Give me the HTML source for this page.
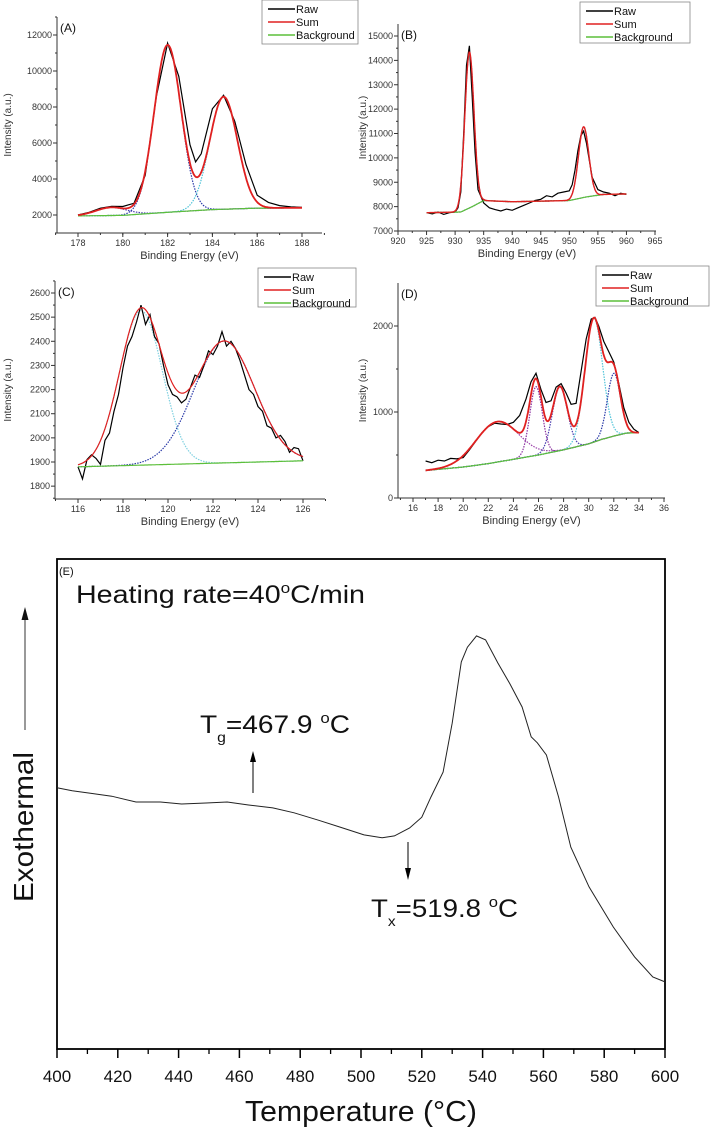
<!DOCTYPE html>
<html><head><meta charset="utf-8"><style>
html,body{margin:0;padding:0;background:#fff;}
svg{display:block;font-family:"Liberation Sans",Arial,sans-serif;}
</style></head><body>
<svg id="fig" width="712" height="1133" viewBox="0 0 712 1133" xmlns="http://www.w3.org/2000/svg"></svg>
<script>
// ---------- Panel A data ----------
const aRawX=[178,178.5,179,179.5,180,180.5,181,181.5,182,182.5,183,183.25,183.5,184,184.5,185,185.5,186,186.5,187,187.5,188];
const aRawY=[2000,2150,2380,2480,2470,2650,4200,8600,11550,9700,5900,4950,5400,7900,8650,7200,4800,3100,2700,2520,2450,2420];
const aBg=[[178,1950],[180,1980],[182,2150],[184,2300],[186,2380],[188,2400]];
const aPkC=[179.5,182,184.5];const aPkH=[450,9300,6250];const aPkS=[0.7,0.6,0.62];
// ---------- Panel B data ----------
const bRawX=[925,926,927,928,929,930,930.5,931,931.5,932,932.5,933,933.5,934,935,936,937,938,939,940,941,942,943,944,945,946,947,948,949,950,950.5,951,951.5,952,952.5,953,953.5,954,955,956,957,958,959,960];
const bRawY=[7750,7700,7780,7680,7750,7780,7950,8600,11000,13800,14600,12500,10200,8700,8150,7950,7880,7820,7900,7850,7950,8050,8150,8250,8300,8450,8400,8550,8600,8650,8900,9500,10300,10900,11100,10600,9900,9200,8700,8600,8550,8450,8550,8500];
const bBg=[[925,7750],[931,7780],[933,8000],[935,8250],[940,8200],[950,8250],[953,8400],[956,8500],[960,8520]];
const bPkC=[932.5,952.5];const bPkH=[6400,2900];const bPkS=[0.8,0.9];
// ---------- Panel C data ----------
const cRawX=[116,116.2,116.4,116.6,116.8,117,117.2,117.4,117.6,117.8,118,118.2,118.4,118.6,118.8,119,119.2,119.4,119.6,119.8,120,120.2,120.4,120.6,120.8,121,121.2,121.4,121.6,121.8,122,122.2,122.4,122.6,122.8,123,123.2,123.4,123.6,123.8,124,124.2,124.4,124.6,124.8,125,125.2,125.4,125.6,125.8,126];
const cRawY=[1880,1830,1910,1930,1915,1890,1990,2020,2110,2180,2290,2380,2420,2480,2550,2470,2510,2420,2390,2300,2220,2180,2170,2145,2160,2210,2260,2250,2300,2360,2345,2380,2440,2380,2400,2370,2320,2260,2200,2180,2130,2110,2050,2040,2000,2010,1985,1940,1960,1955,1905];
const cBg=[[116,1880],[126,1905]];
const cPkC=[118.8,122.5];const cPkH=[640,505];const cPkS=[0.95,1.35];
// ---------- Panel D data ----------
const dRawX=[17,17.5,18,18.5,19,19.5,20,20.5,21,21.5,22,22.5,23,23.5,24,24.5,25,25.4,25.8,26.2,26.6,27,27.4,27.8,28.2,28.6,29,29.4,29.8,30.2,30.5,30.8,31.2,31.6,32,32.4,32.8,33.2,33.6,34];
const dRawY=[430,410,440,430,460,455,470,560,660,760,830,870,860,855,880,960,1150,1350,1450,1260,1110,1130,1290,1330,1220,1090,1100,1480,1850,2080,2100,2000,1820,1700,1580,1330,1050,880,800,760];
const dBg=[[17,320],[20,360],[22,400],[24,450],[26,500],[28,560],[30,630],[31,680],[32,720],[33,755],[34,760]];
const dPkC=[22.7,25.8,27.7,30.4,32.0];const dPkH=[470,800,740,1440,730];const dPkS=[1.7,0.5,0.6,0.7,0.52];
const dPkCol=["#9a3fa8","#8a2fa0","#4a3db0","#4fc3d8","#2a3aa8"];
// ---------- Panel E (DSC) data ----------
const eT=[400,405,411,418,426,434,441,449,456,463,471,478,486,493,501,507,511,516,520,523,527,530,533,535,538,541,545,549,553,556,558,561,565,569,575,583,590,596,600];
const eY=[53.3,52.7,52.2,51.6,50.4,50.4,50.0,50.2,50.4,49.8,49.2,48.2,46.7,45.3,43.7,43.1,43.5,45.1,47.3,51.4,56.5,66.5,79.0,82.0,84.3,83.5,78.8,74.5,69.8,63.7,62.5,60.0,51.4,41.2,33.1,24.9,18.8,14.7,13.7];
const eXTicks=[400,420,440,460,480,500,520,540,560,580,600];

const NS="http://www.w3.org/2000/svg";
const svg=document.getElementById('fig');
function mk(tag,attrs,parent){const e=document.createElementNS(NS,tag);for(const k in attrs)e.setAttribute(k,attrs[k]);(parent||svg).appendChild(e);return e;}
function txt(s,attrs,parent){const e=mk('text',attrs,parent);e.textContent=s;return e;}
function interp(pts,x){if(x<=pts[0][0])return pts[0][1];for(let i=1;i<pts.length;i++){if(x<=pts[i][0]){const t=(x-pts[i-1][0])/(pts[i][0]-pts[i-1][0]);return pts[i-1][1]+t*(pts[i][1]-pts[i-1][1]);}}return pts[pts.length-1][1];}
function gauss(x,c,h,s){return h*Math.exp(-(x-c)*(x-c)/(2*s*s));}

function panel(p){
  const g=mk('g',{});
  
  
  const X=v=>p.x0px+(v-p.x0)*(p.x1px-p.x0px)/(p.x1-p.x0);
  const Y=v=>p.y0px+(v-p.y0)*(p.y1px-p.y0px)/(p.y1-p.y0);
  const ax=mk('path',{d:`M${p.axL},${p.axT} V${p.axB} H${p.axR}`,stroke:'#333',fill:'none','stroke-width':1},g);
  
  
  p.xTicks.forEach(v=>{mk('line',{x1:X(v),x2:X(v),y1:p.axB,y2:p.axB+4,stroke:'#333'},g);
    const t=txt(String(v),{x:X(v),y:p.axB+13,'font-size':9,'text-anchor':'middle',fill:'#333'},g);
    });
  p.xMinor.forEach(v=>mk('line',{x1:X(v),x2:X(v),y1:p.axB,y2:p.axB+2,stroke:'#333'},g));
  p.yTicks.forEach(v=>{mk('line',{x1:p.axL-4,x2:p.axL,y1:Y(v),y2:Y(v),stroke:'#333'},g);
    const t=txt(String(v),{x:p.axL-5,y:Y(v)+3,'font-size':9,'text-anchor':'end',fill:'#333'},g);
    });
  p.yMinor.forEach(v=>mk('line',{x1:p.axL-2,x2:p.axL,y1:Y(v),y2:Y(v),stroke:'#333'},g));
  const xl=txt('Binding Energy (eV)',{x:(p.axL+p.axR)/2,y:p.axB+26,'font-size':11,'text-anchor':'middle',fill:'#333'},g);
  
  const yc=(p.axT+p.axB)/2;
  const yl=txt('Intensity (a.u.)',{x:p.yLabX,y:yc,'font-size':10,'text-anchor':'middle',fill:'#333',transform:`rotate(-90 ${p.yLabX} ${yc})`},g);
  
  const pl=txt(p.label,{x:p.axL+3,y:p.axT+15,'font-size':12,fill:'#111'},g);
  
  const xs=[];for(let v=p.xs0;v<=p.xs1+1e-9;v+=(p.xs1-p.xs0)/300)xs.push(v);
  const bg=v=>interp(p.bg,v);
  p.pkC.forEach((c,i)=>{const pts=xs.map(v=>X(v).toFixed(1)+','+Y(bg(v)+gauss(v,c,p.pkH[i],p.pkS[i])).toFixed(1)).join(' ');
    const e=mk('polyline',{points:pts,fill:'none',stroke:p.pkCol[i%p.pkCol.length],'stroke-width':1.2,'stroke-dasharray':'1.5,1.2'},g);
    });
  const raw=mk('polyline',{points:p.rawX.map((v,i)=>X(v).toFixed(1)+','+Y(p.rawY[i]).toFixed(1)).join(' '),fill:'none',stroke:'#000','stroke-width':1.2},g);
  
  const bgl=mk('polyline',{points:xs.map(v=>X(v).toFixed(1)+','+Y(bg(v)).toFixed(1)).join(' '),fill:'none',stroke:'#5cbf3a','stroke-width':1.2},g);
  
  const sum=mk('polyline',{points:xs.map(v=>{let s=bg(v);p.pkC.forEach((c,i)=>s+=gauss(v,c,p.pkH[i],p.pkS[i]));return X(v).toFixed(1)+','+Y(s).toFixed(1);}).join(' '),fill:'none',stroke:'#e02020','stroke-width':p.sumW||1.4},g);
  
  const L=p.leg;
  const lg=mk('g',{},g);
  
  mk('rect',{x:L.x,y:L.y,width:L.w,height:L.h,fill:'#fff',stroke:'#888','stroke-width':0.8},lg);
  [['Raw','#000'],['Sum','#e02020'],['Background','#5cbf3a']].forEach((r,i)=>{
    const yy=L.y+9+i*13;
    mk('line',{x1:L.x+6,x2:L.x+33,y1:yy,y2:yy,stroke:r[1],'stroke-width':1.5},lg);
    const t=txt(r[0],{x:L.x+34,y:yy+4,'font-size':11,fill:'#111'},lg);
    });
}
const range=(a,b,s)=>{const r=[];for(let v=a;v<=b+1e-9;v+=s)r.push(+v.toFixed(3));return r;};

panel({name:'panel-a',label:'(A)',x0:178,x1:188,x0px:78,x1px:302,y0:2000,y1:12000,y0px:215,y1px:35,
  axL:57,axR:322,axT:17,axB:233,yLabX:11,xTicks:range(178,188,2),xMinor:range(177,189,1),
  yTicks:range(2000,12000,2000),yMinor:range(1000,13000,1000),xs0:178,xs1:188,
  rawX:aRawX,rawY:aRawY,bg:aBg,pkC:aPkC,pkH:aPkH,pkS:aPkS,pkCol:['#4a3db0','#2a3aa8','#4fc3d8'],sumW:1.8,
  leg:{x:262,y:0,w:96,h:44}});
panel({name:'panel-b',label:'(B)',x0:920,x1:965,x0px:398,x1px:655,y0:7000,y1:15000,y0px:231,y1px:36,
  axL:398,axR:656,axT:24,axB:231,yLabX:366,xTicks:range(920,965,5),xMinor:range(922.5,962.5,5),
  yTicks:range(7000,15000,1000),yMinor:range(7500,15000,1000),xs0:925,xs1:960,
  rawX:bRawX,rawY:bRawY,bg:bBg,pkC:bPkC,pkH:bPkH,pkS:bPkS,pkCol:['#3050c0','#3050c0'],
  leg:{x:580,y:2,w:110,h:41}});
panel({name:'panel-c',label:'(C)',x0:116,x1:126,x0px:78,x1px:303,y0:1900,y1:2600,y0px:462,y1px:293,
  axL:55,axR:325,axT:281,axB:499,yLabX:11,xTicks:range(116,126,2),xMinor:range(115,127,1),
  yTicks:range(1800,2600,100),yMinor:range(1750,2650,100),xs0:116,xs1:126,
  rawX:cRawX,rawY:cRawY,bg:cBg,pkC:cPkC,pkH:cPkH,pkS:cPkS,pkCol:['#7fd0e0','#2a3aa8'],sumW:1.2,
  leg:{x:258,y:268,w:98,h:39}});
panel({name:'panel-d',label:'(D)',x0:16,x1:36,x0px:413,x1px:664,y0:0,y1:2000,y0px:498,y1px:326,
  axL:398,axR:665,axT:283,axB:498,yLabX:366,xTicks:range(16,36,2),xMinor:range(15,35,2),
  yTicks:[0,1000,2000],yMinor:[500,1500],xs0:17,xs1:34,
  rawX:dRawX,rawY:dRawY,bg:dBg,pkC:dPkC,pkH:dPkH,pkS:dPkS,pkCol:dPkCol,sumW:1.8,
  leg:{x:596,y:266,w:113,h:40}});

// ---------- Panel E ----------
(function(){
  const L=57,R=665,T=559,B=1049;
  const X=v=>L+(v-400)*(R-L)/200;
  const Y=v=>B-v*(B-T)/100;
  const g=mk('g',{});
  
  
  const fr=mk('rect',{x:L,y:T,width:R-L,height:B-T,fill:'none',stroke:'#000','stroke-width':1.8},g);
  
  eXTicks.forEach(v=>{mk('line',{x1:X(v),x2:X(v),y1:B,y2:B+9,stroke:'#000','stroke-width':1.5},g);
    const t=txt(String(v),{x:X(v),y:B+33,'font-size':17,'text-anchor':'middle',fill:'#111'},g);
    });
  for(let v=410;v<600;v+=20)mk('line',{x1:X(v),x2:X(v),y1:B,y2:B+5,stroke:'#000','stroke-width':1.3},g);
  const c=mk('polyline',{points:eT.map((v,i)=>X(v).toFixed(1)+','+Y(eY[i]).toFixed(1)).join(' '),fill:'none',stroke:'#222','stroke-width':1},g);
  
  const xt=txt('Temperature (°C)',{x:361,y:1121,'font-size':29,'text-anchor':'middle',fill:'#111',textLength:232,lengthAdjust:'spacingAndGlyphs'},g);
  
  const yt=txt('Exothermal',{x:33,y:827,'font-size':28,'text-anchor':'middle',fill:'#111',transform:'rotate(-90 33 827)',textLength:150,lengthAdjust:'spacingAndGlyphs'},g);
  
  mk('line',{x1:25,x2:25,y1:730,y2:618,stroke:'#333','stroke-width':1},g);
  mk('path',{d:'M21.5,620 L25,607 L28.5,620 Z',fill:'#111'},g);
  const pe=txt('(E)',{x:59,y:575,'font-size':11,fill:'#111'},g);
  
  const hr=mk('text',{x:76,y:603,'font-size':25,fill:'#111',textLength:289,lengthAdjust:'spacingAndGlyphs'},g);
  hr.innerHTML='Heating rate=40<tspan dy="-10" font-size="15">o</tspan><tspan dy="10">C/min</tspan>';
  
  mk('line',{x1:253,x2:253,y1:793,y2:760,stroke:'#000','stroke-width':1},g);
  mk('path',{d:'M250,762 L253,751 L256,762 Z',fill:'#000'},g);
  const tg=mk('text',{x:200,y:733,'font-size':25,fill:'#111',textLength:150,lengthAdjust:'spacingAndGlyphs'},g);
  tg.innerHTML='T<tspan dy="9" font-size="14">g</tspan><tspan dy="-9">=467.9 </tspan><tspan dy="-10" font-size="15">o</tspan><tspan dy="10">C</tspan>';
  
  mk('line',{x1:408,x2:408,y1:842,y2:870,stroke:'#000','stroke-width':1},g);
  mk('path',{d:'M405,868 L408,880 L411,868 Z',fill:'#000'},g);
  const tx=mk('text',{x:371,y:917,'font-size':25,fill:'#111',textLength:147,lengthAdjust:'spacingAndGlyphs'},g);
  tx.innerHTML='T<tspan dy="9" font-size="14">x</tspan><tspan dy="-9">=519.8 </tspan><tspan dy="-10" font-size="15">o</tspan><tspan dy="10">C</tspan>';
  
})();
</script>
</body></html>
